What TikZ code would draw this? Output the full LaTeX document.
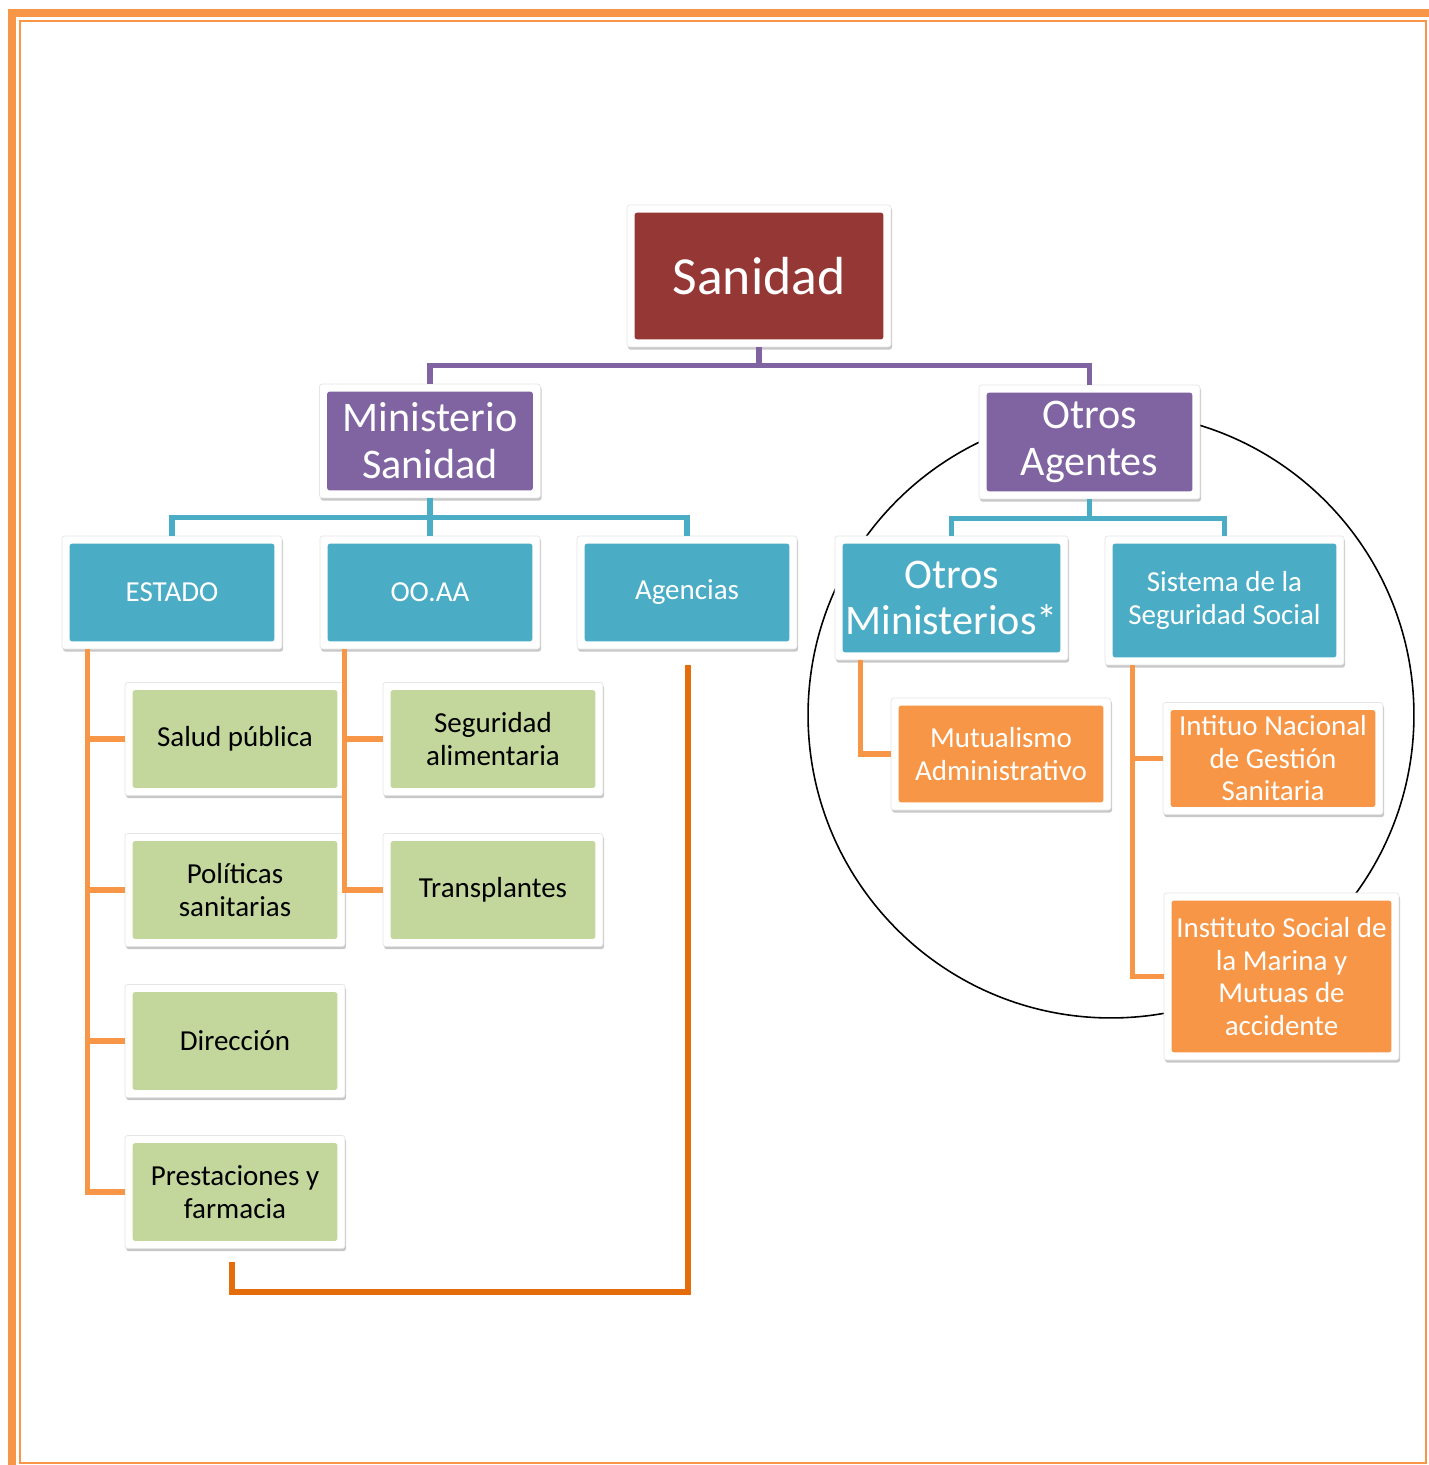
\documentclass[tikz,border=0pt]{standalone}
\usepackage{fontspec}
\setmainfont{Carlito}
\usetikzlibrary{shadows}
\definecolor{sanred}{RGB}{149,55,53}
\definecolor{morado}{RGB}{128,100,162}
\definecolor{turquesa}{RGB}{75,172,198}
\definecolor{verde}{RGB}{195,214,155}
\definecolor{naranja}{RGB}{247,150,70}
\definecolor{naranjaosc}{RGB}{228,108,10}
\newcommand{\fsbig}{\fontsize{30.5}{34}\selectfont}
\newcommand{\fsmid}{\fontsize{24}{26.7}\selectfont}
\newcommand{\fssmall}{\fontsize{16.5}{18.5}\selectfont}
\tikzset{
  caja/.style={rectangle, rounded corners=1.5pt, fill=white, draw=black!10, line width=0.4pt,
    inner sep=0pt, align=center, text=white,
    drop shadow={shadow xshift=0.6pt, shadow yshift=-1.5pt, fill=black, opacity=0.22},
    path picture={\fill[#1] ([shift={(4.3pt,-4.3pt)}]path picture bounding box.north west)
      rectangle ([shift={(-4.3pt,4.3pt)}]path picture bounding box.south east);}},
  nivel2/.style={caja=morado, font=\fsmid, minimum width=4.42cm, minimum height=2.28cm},
  nivel3/.style={caja=turquesa, font=\fssmall, minimum width=4.4cm, minimum height=2.26cm},
  hoja/.style={caja=verde, text=black, font=\fssmall, minimum width=4.4cm, minimum height=2.26cm},
  ente/.style={caja=naranja, font=\fssmall, minimum width=4.4cm, minimum height=2.24cm},
  lmorado/.style={draw=morado, line width=2.9pt},
  lturq/.style={draw=turquesa, line width=2.9pt},
  lnar/.style={draw=naranja, line width=2.9pt},
  lbloque/.style={draw=naranjaosc, line width=3.5pt, line join=miter}
}
\begin{document}
\begin{tikzpicture}[x=0.02cm, y=-0.02cm]
        \useasboundingbox (0,0) rectangle (1429,1465);
        % page border
        \fill[naranja] (8,9) rectangle (1429,17);
        \fill[naranja] (8,9) rectangle (16,1465);
        \draw[naranja, line width=1.6pt] (20,21) rectangle (1426,1463);
        % circle round the other agents
        \draw[line width=0.9pt] (1111,715) circle[radius=6.06cm];
        % top levels
        \node[caja=sanred, font=\fsbig, minimum width=5.28cm, minimum height=2.84cm] (sanidad) at (759,276) {Sanidad};
        \node[nivel2] (ministerio) at (430,441) {Ministerio\\Sanidad};
        \node[nivel2] (otrosag) at (1089.5,442) {Otros\\Agentes};
        % Ministerio Sanidad
        \node[nivel3] (estado) at (172,592.5) {ESTADO};
        \node[nivel3] (ooaa) at (430,592.5) {OO.AA};
        \node[nivel3] (agencias) at (687,592.5) {Agencias};
        \node[hoja] (salud) at (235,739) {Salud pública};
        \node[hoja] (politicas) at (235,890) {Políticas\\sanitarias};
        \node[hoja] (direccion) at (235,1041) {Dirección};
        \node[hoja] (prestaciones) at (235,1192) {Prestaciones y\\farmacia};
        \node[hoja] (seguridad) at (493,739) {Seguridad\\alimentaria};
        \node[hoja] (transpl) at (493,890) {Transplantes};
        % Otros Agentes
        \node[nivel3, font=\fsmid, minimum width=4.66cm, minimum height=2.48cm] (otrosmin) at (951.5,598) {Otros\\Ministerios*};
        \node[nivel3, minimum width=4.78cm, minimum height=2.58cm] (sistema) at (1224.5,600.5) {Sistema de la\\Seguridad Social};
        \node[ente] (mutual) at (1001,754) {Mutualismo\\Administrativo};
        \node[ente] (ingesa) at (1273,758.5) {Intituo Nacional\\de Gestión\\Sanitaria};
        \node[ente, minimum width=4.7cm, minimum height=3.34cm] (ism) at (1281.5,976.5) {Instituto Social de\\la Marina y\\Mutuas de\\accidente};
        % connectors
        \draw[lmorado] (sanidad.south) -- ++(0,18) -| (ministerio.north);
        \draw[lmorado] (sanidad.south) -- ++(0,18) -| (otrosag.north);
        \foreach \n in {estado,ooaa,agencias}
            \draw[lturq] (ministerio.south) -- ++(0,19) -| (\n.north);
        \foreach \n in {otrosmin,sistema}
            \draw[lturq] (otrosag.south) -- ++(0,19) -| (\n.north);
        \foreach \n in {salud,politicas,direccion,prestaciones}
            \draw[lnar] (estado.south west) ++(26,0) |- (\n.west);
        \foreach \n in {seguridad,transpl}
            \draw[lnar] (ooaa.south west) ++(25,0) |- (\n.west);
        \draw[lnar] (otrosmin.south west) ++(26,0) |- (mutual.west);
        \foreach \n in {ingesa,ism}
            \draw[lnar] (sistema.south west) ++(28,0) |- (\n.west);
        % bracket under the Ministerio branch
        \coordinate (aglow) at (688,665);
        \coordinate (prlow) at (232,1262);
        \draw[lbloque] (aglow) -- ++(0,627) -| (prlow);
    \end{tikzpicture}
\end{document}
